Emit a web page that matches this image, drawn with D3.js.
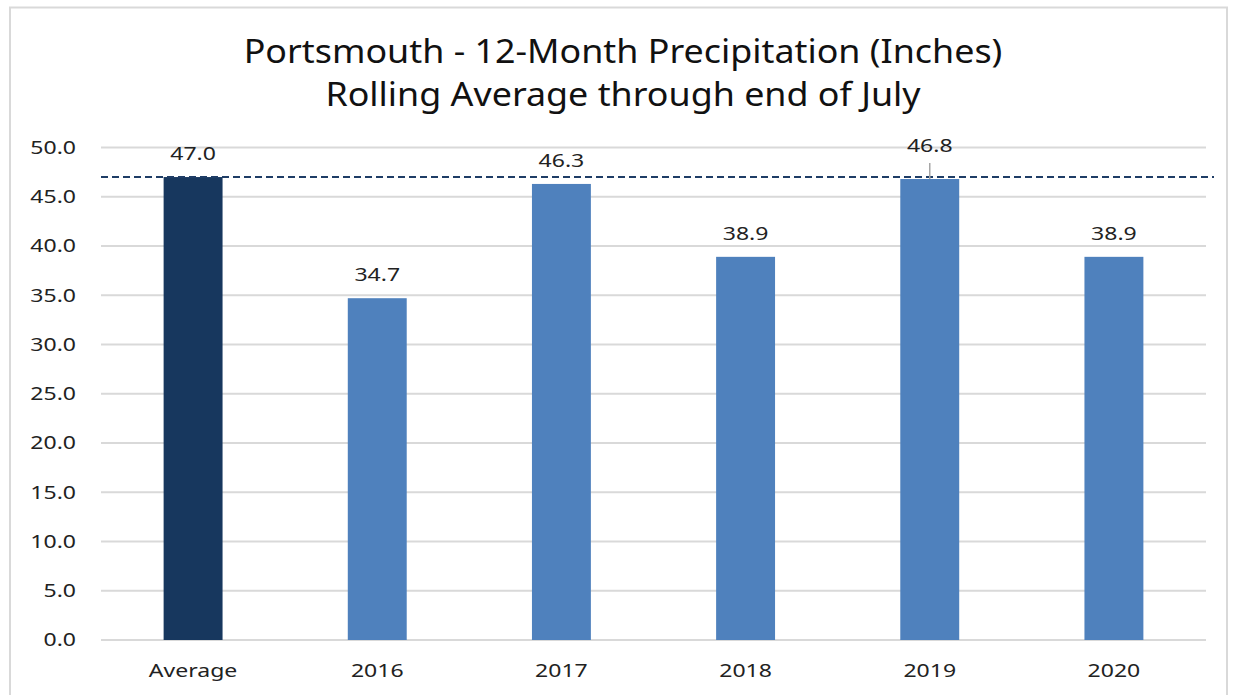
<!DOCTYPE html>
<html><head><meta charset="utf-8">
<script src="https://cdn.jsdelivr.net/npm/d3@7"></script>
<style>body{margin:0;background:#fff;} svg{display:block;}</style>
</head><body>
<svg id="c" width="1235" height="695"></svg>
<script>
const categories = ["Average","2016","2017","2018","2019","2020"];
const values = [47.0, 34.7, 46.3, 38.9, 46.8, 38.9];
const averageLine = 47.0;
const yTicks = [0,5,10,15,20,25,30,35,40,45,50];
const titleLines = ["Portsmouth - 12-Month Precipitation (Inches)","Rolling Average through end of July"];

const svg = d3.select("#c");
const font = "'Noto Sans', 'Open Sans', sans-serif";
const m = {left:101, right:1206, top:147.5, bottom:640};
const SX = 1.28, FS = 18;

svg.append("rect").attr("x",10).attr("y",7.5).attr("width",1217).attr("height",700)
  .attr("fill","#fff").attr("stroke","#d9d9d9").attr("stroke-width",2);

const x = d3.scaleBand().domain(categories).range([m.left,m.right]).paddingInner(0.68).paddingOuter(0.34);
const y = d3.scaleLinear().domain([0,50]).range([m.bottom,m.top]);

svg.append("g").selectAll("line").data(yTicks).join("line")
  .attr("x1",m.left).attr("x2",m.right).attr("y1",d=>y(d)).attr("y2",d=>y(d))
  .attr("stroke","#d9d9d9").attr("stroke-width",2);

const yAxis = svg.append("g").attr("transform",`translate(${m.left-25},0)`)
  .call(d3.axisLeft(y).tickValues(yTicks).tickFormat(d3.format(".1f")).tickSize(0).tickPadding(0));
yAxis.select(".domain").remove();
yAxis.selectAll("text").attr("font-family",font).attr("font-size",FS).attr("fill","#222")
  .attr("transform",`scale(${SX},1)`);

svg.append("g").selectAll("rect").data(categories).join("rect")
  .attr("x",d=>x(d)).attr("width",x.bandwidth())
  .attr("y",(d,i)=>y(values[i])).attr("height",(d,i)=>y(0)-y(values[i]))
  .attr("fill",(d,i)=>i===0?"#17375e":"#4f81bd");

const xAxis = svg.append("g").attr("transform",`translate(0,${m.bottom})`)
  .call(d3.axisBottom(x).tickSize(0).tickPadding(0));
xAxis.select(".domain").remove();
xAxis.selectAll("text").attr("font-family",font).attr("font-size",FS).attr("fill","#222")
  .attr("dy",null).attr("y",37).attr("transform",`scale(${SX},1)`);

// average dashed line
svg.append("line").attr("x1",m.left).attr("x2",1214).attr("y1",y(averageLine)).attr("y2",y(averageLine))
  .attr("stroke","#1f3d66").attr("stroke-width",2).attr("stroke-dasharray","7,4");

// labels
const labelOffset = [17,17,17,17,27,17];
svg.append("g").selectAll("text").data(categories).join("text")
  .attr("transform",(d,i)=>`translate(${x(d)+x.bandwidth()/2},${y(values[i])-labelOffset[i]}) scale(${SX},1)`)
  .attr("text-anchor","middle").attr("font-family",font).attr("font-size",FS).attr("fill","#222")
  .text((d,i)=>values[i].toFixed(1));

// leader line for 2019
const c19 = x("2019")+x.bandwidth()/2;
svg.append("line").attr("x1",c19).attr("x2",c19).attr("y1",y(values[4])-16).attr("y2",y(values[4]))
  .attr("stroke","#a6a6a6").attr("stroke-width",1.5);

svg.append("g").selectAll("text").data(titleLines).join("text")
  .attr("transform",(d,i)=>`translate(623,${63+i*43}) scale(1.12,1)`).attr("text-anchor","middle")
  .attr("font-family",font).attr("font-size",32).attr("fill","#111").text(d=>d);
</script>
</body></html>
